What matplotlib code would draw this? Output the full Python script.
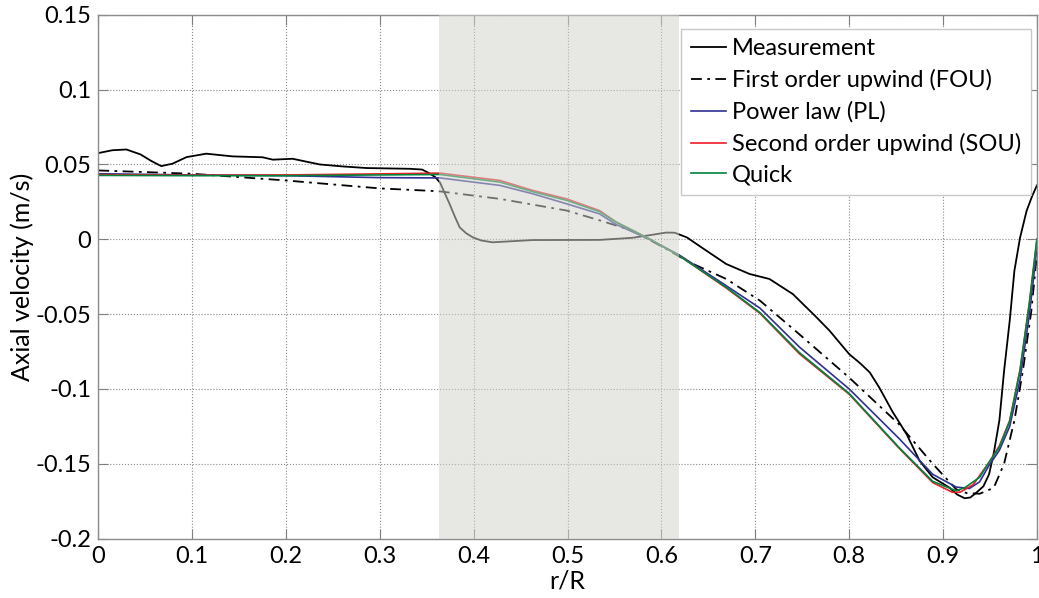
import matplotlib
matplotlib.use("Agg")
import matplotlib.pyplot as plt
from matplotlib.ticker import FixedLocator, FixedFormatter

plt.rcParams['font.family'] = ['Lato', 'DejaVu Sans']
plt.rcParams['axes.unicode_minus'] = False

# measured profile
r_meas = [0, 0.015, 0.03, 0.045, 0.056, 0.067, 0.079, 0.094, 0.115, 0.143, 0.175, 0.186,
          0.207, 0.236, 0.26, 0.286, 0.332, 0.345, 0.353, 0.359, 0.364, 0.369, 0.374,
          0.38, 0.385, 0.392, 0.399, 0.408, 0.42, 0.463, 0.534, 0.569, 0.59, 0.605, 0.614,
          0.627, 0.645, 0.669, 0.694, 0.715, 0.74, 0.765, 0.779, 0.8, 0.812, 0.822, 0.832,
          0.846, 0.861, 0.875, 0.889, 0.907, 0.915, 0.923, 0.929, 0.935, 0.943, 0.949,
          0.954, 0.96, 0.965, 0.971, 0.976, 0.982, 0.989, 0.995, 1.0]
v_meas = [0.0576, 0.0595, 0.060, 0.0567, 0.0525, 0.0489, 0.0505, 0.0549, 0.0572, 0.0554,
          0.0548, 0.0532, 0.0538, 0.050, 0.0487, 0.0476, 0.0471, 0.0466, 0.044, 0.0415,
          0.038, 0.031, 0.024, 0.015, 0.008, 0.004, 0.0013, -0.0008, -0.002, -0.0005,
          -0.0004, 0.001, 0.003, 0.0045, 0.0044, 0.0013, -0.0064, -0.0165, -0.0232,
          -0.0265, -0.0366, -0.052, -0.061, -0.0767, -0.083, -0.089, -0.099, -0.115,
          -0.130, -0.148, -0.159, -0.166, -0.1705, -0.173, -0.1725, -0.1695, -0.165,
          -0.157, -0.143, -0.121, -0.088, -0.0545, -0.021, 0.001, 0.019, 0.029, 0.036]

# first order upwind
r_fou = [0, 0.1, 0.2, 0.3, 0.35, 0.364, 0.428, 0.499, 0.535, 0.569, 0.605, 0.63, 0.669,
         0.705, 0.747, 0.8, 0.853, 0.889, 0.914, 0.925, 0.939, 0.954, 0.965, 0.976, 0.985,
         0.994, 1.0]
v_fou = [0.046, 0.0438, 0.0393, 0.034, 0.0325, 0.032, 0.027, 0.0192, 0.0125, 0.0058,
         -0.0064, -0.0154, -0.0265, -0.041, -0.0635, -0.0924, -0.1235, -0.150, -0.167,
         -0.1695, -0.170, -0.166, -0.150, -0.121, -0.088, -0.048, -0.01]

# power law
r_pl = [0, 0.1, 0.2, 0.3, 0.364, 0.428, 0.463, 0.499, 0.534, 0.552, 0.587, 0.619, 0.669,
        0.705, 0.747, 0.8, 0.853, 0.889, 0.914, 0.928, 0.939, 0.949, 0.96, 0.971, 0.982,
        0.992, 1.0]
v_pl = [0.0438, 0.043, 0.0425, 0.0412, 0.041, 0.036, 0.0304, 0.0237, 0.017, 0.0098, 0.0,
        -0.0105, -0.031, -0.046, -0.072, -0.100, -0.133, -0.157, -0.1655, -0.1665, -0.162,
        -0.151, -0.141, -0.125, -0.094, -0.05, -0.006]

# second order upwind
r_sou = [0, 0.1, 0.2, 0.3, 0.364, 0.428, 0.463, 0.499, 0.534, 0.552, 0.587, 0.619, 0.669,
         0.705, 0.747, 0.8, 0.853, 0.889, 0.91, 0.918, 0.932, 0.949, 0.96, 0.971, 0.982,
         0.992, 1.0]
v_sou = [0.0432, 0.0428, 0.043, 0.0437, 0.0442, 0.0393, 0.0326, 0.027, 0.0192, 0.0114,
         0.0003, -0.011, -0.0325, -0.0495, -0.0765, -0.1035, -0.1395, -0.1625, -0.169,
         -0.169, -0.164, -0.149, -0.138, -0.121, -0.087, -0.042, 0.0]

# quick
r_quick = [0, 0.1, 0.2, 0.3, 0.364, 0.428, 0.463, 0.499, 0.534, 0.552, 0.587, 0.619, 0.669,
           0.705, 0.747, 0.8, 0.853, 0.889, 0.914, 0.923, 0.939, 0.949, 0.96, 0.971, 0.982,
           0.992, 1.0]
v_quick = [0.0427, 0.0425, 0.0425, 0.043, 0.0433, 0.0382, 0.0318, 0.026, 0.0185, 0.0114,
           0.0003, -0.011, -0.032, -0.049, -0.0757, -0.103, -0.139, -0.1617, -0.168,
           -0.166, -0.159, -0.149, -0.139, -0.1217, -0.088, -0.043, 0.0]

shade_range = (0.3628, 0.619)

x_ticks = [0, 0.1, 0.2, 0.3, 0.4, 0.5, 0.6, 0.7, 0.8, 0.9, 1.0]
x_labels = ['0', '0.1', '0.2', '0.3', '0.4', '0.5', '0.6', '0.7', '0.8', '0.9', '1']
y_ticks = [-0.2, -0.15, -0.1, -0.05, 0, 0.05, 0.1, 0.15]
y_labels = ['-0.2', '-0.15', '-0.1', '-0.05', '0', '0.05', '0.1', '0.15']


fig = plt.figure(figsize=(10.39, 5.98), dpi=100)
ax = fig.add_axes([0.0946, 0.0992, 0.9034, 0.8761])

ax.plot(r_meas, v_meas, color='black', lw=1.3, label='Measurement')
ax.plot(r_fou, v_fou, color='black', lw=1.3, ls=(0, (6, 3, 1.5, 3)),
        label='First order upwind (FOU)')
ax.plot(r_pl, v_pl, color='#2e3192', lw=1.2, label='Power law (PL)')
ax.plot(r_sou, v_sou, color='#ee1c24', lw=1.2, label='Second order upwind (SOU)')
ax.plot(r_quick, v_quick, color='#00843d', lw=1.2, label='Quick')

# shaded band sits over the curves
ax.axvspan(shade_range[0], shade_range[1], facecolor='#d3d2cc', alpha=0.53,
           edgecolor='none', zorder=3)

ax.set_xlim(0, 1)
ax.set_ylim(-0.2, 0.15)
ax.xaxis.set_major_locator(FixedLocator(x_ticks))
ax.xaxis.set_major_formatter(FixedFormatter(x_labels))
ax.yaxis.set_major_locator(FixedLocator(y_ticks))
ax.yaxis.set_major_formatter(FixedFormatter(y_labels))

ax.grid(True, ls=':', color='#8a8a8a', lw=0.8)
ax.tick_params(direction='in', length=7, width=0.8, color='#7f7f7f',
               top=True, right=True, labelsize=17, pad=5)
for sp in ax.spines.values():
    sp.set_color('#8c8c8c')
    sp.set_linewidth(1.0)

ax.set_xlabel('r/R', fontsize=18, labelpad=2)
ax.set_ylabel('Axial velocity (m/s)', fontsize=18, labelpad=1)

leg = ax.legend(loc='upper right', bbox_to_anchor=(0.9935, 0.973), fontsize=17,
                frameon=True, fancybox=False, framealpha=1, edgecolor='#c8c8c8',
                handlelength=1.5, handletextpad=0.25, labelspacing=0.42,
                borderpad=0.4, borderaxespad=0)
leg.get_frame().set_linewidth(1.0)
leg.set_zorder(5)

fig.savefig('out.png', dpi=100)
